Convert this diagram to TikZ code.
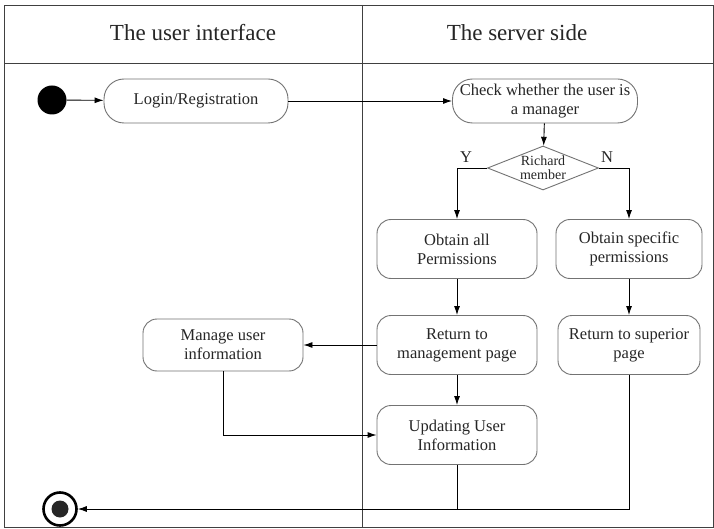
\documentclass[tikz,border=0pt]{standalone}
\usepackage{fontspec}
\setmainfont{Liberation Serif}
\usetikzlibrary{shapes.geometric,arrows.meta}

\begin{document}
\begin{tikzpicture}[x=1pt,y=-1pt]
\tikzstyle{every node}=[font=\fontsize{16.5}{19}\selectfont,text=black!85,align=center];
\tikzstyle{act}=[draw=black!55,line width=0.9pt,rectangle,rounded corners=14pt,minimum width=160pt,minimum height=59pt,inner sep=2pt];
\tikzstyle{flow}=[line width=0.9pt,-{Latex[length=9pt,width=6pt]}];
\tikzstyle{lane}=[draw=black!75,line width=0.8pt];
\useasboundingbox (0,0) rectangle (714,529);
\fill[white] (0,0) rectangle (714,529);
\draw[lane] (4,5) rectangle (713,527);
\draw[lane] (4,63) -- (713,63);
\draw[lane] (362,5) -- (362,527);
\node[font=\fontsize{23}{26}\selectfont] (uihead) at (193,33) {The user interface};
\node[font=\fontsize{23}{26}\selectfont] (srvhead) at (517,33) {The server side};
\node[circle,fill=black,minimum size=29pt,inner sep=0pt] (start) at (52,100) {};
\node[act,rounded corners=20pt,minimum width=184pt,minimum height=44pt] (login) at (196,101) {Login/Registration};
\node[act,rounded corners=20pt,minimum width=185pt,minimum height=44pt,inner sep=1pt] (check) at (545,101) {Check whether the user is\\a manager};
\node[diamond,draw=black!55,line width=0.9pt,minimum width=111pt,minimum height=44pt,inner sep=0pt,aspect=2.5,font=\fontsize{14}{14}\selectfont] (dec) at (543,168) {Richard\\member};
\node (yes) at (466,157) {Y};
\node (no) at (607,157) {N};
\node[act] (allperm) at (457,249) {Obtain all\\Permissions};
\node[act,minimum width=146pt] (specperm) at (629,249) {Obtain specific\\permissions};
\node[act] (retmgmt) at (457,345) {Return to\\management page};
\node[act,minimum width=142pt] (retsup) at (629,345) {Return to superior\\page};
\node[act,minimum height=52pt] (manage) at (223,345) {Manage user\\information};
\node[act] (update) at (457,435) {Updating User\\Information};
\node[circle,draw=black,line width=2.6pt,minimum size=33pt,inner sep=0pt] (stop) at (60,509) {};
\node[circle,fill=black!85,minimum size=17pt,inner sep=0pt] (stopdot) at (stop) {};
\draw[flow] (start) -- (login);
\draw[flow] (login) -- (check);
\draw[flow] (check) -- (dec);
\draw[flow] (dec.west) -| (allperm);
\draw[flow] (dec.east) -| (specperm);
\draw[flow] (allperm) -- (retmgmt);
\draw[flow] (specperm) -- (retsup);
\draw[flow] (retmgmt) -- (manage);
\draw[flow] (retmgmt) -- (update);
\draw[flow] (manage) |- (update);
\draw[flow] (retsup) |- (stop);
\draw[line width=0.9pt] (update) -- (update |- stop);
\end{tikzpicture}
\end{document}
